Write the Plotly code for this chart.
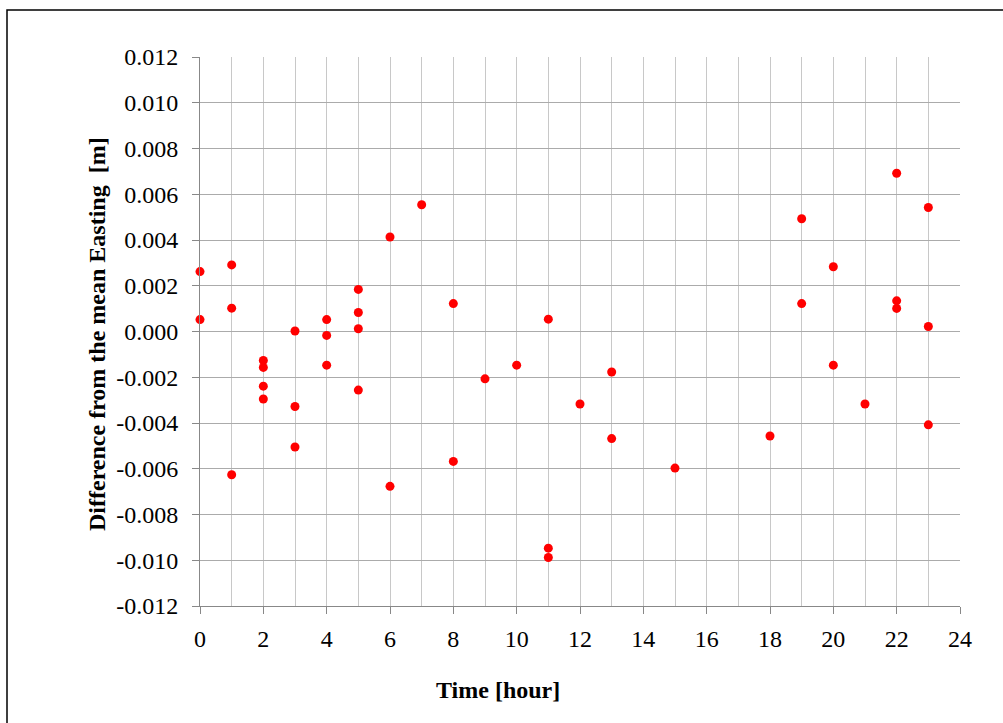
import plotly.graph_objects as go

hours = [0, 0,
         1, 1, 1,
         2, 2, 2, 2,
         3, 3, 3,
         4, 4, 4,
         5, 5, 5, 5,
         6, 6,
         7,
         8, 8,
         9,
         10,
         11, 11, 11,
         12,
         13, 13,
         15,
         18,
         19, 19,
         20, 20,
         21,
         22, 22, 22,
         23, 23, 23]
diff_easting = [0.00262, 0.00052,
                0.00291, 0.00102, -0.00626,
                -0.00127, -0.00157, -0.00239, -0.00295,
                0.00002, -0.00328, -0.00505,
                0.00052, -0.00017, -0.00147,
                0.00184, 0.00083, 0.00012, -0.00256,
                0.00413, -0.00677,
                0.00554,
                0.00122, -0.00568,
                -0.00207,
                -0.00147,
                0.00054, -0.00947, -0.00988,
                -0.00317,
                -0.00177, -0.00468,
                -0.00597,
                -0.00457,
                0.00493, 0.00122,
                0.00283, -0.00147,
                -0.00317,
                0.00692, 0.00134, 0.00101,
                0.00542, 0.00022, -0.00408]

x_tickvals = list(range(0, 25, 2))
y_tickvals = [-0.012, -0.010, -0.008, -0.006, -0.004, -0.002, 0.0,
              0.002, 0.004, 0.006, 0.008, 0.010, 0.012]
y_ticktext = [f"{v:.3f}" for v in y_tickvals]

x_title = "Time [hour]"
y_title = "Difference from the mean Easting&nbsp; [m]"

W, H = 1003, 723
L, R, T, B = 200, 43, 57, 117
pw, ph = W - L - R, H - T - B

font_family = "Liberation Serif"
tick_font = dict(family=font_family, size=24, color="black")
title_font = dict(family=font_family, size=24, color="black")

fig = go.Figure()
fig.add_trace(go.Scatter(
    x=hours, y=diff_easting, mode="markers",
    marker=dict(color="#ff0000", size=9, line=dict(width=0)),
    showlegend=False, cliponaxis=False,
))

fig.update_layout(
    width=W, height=H,
    margin=dict(l=L, r=R, t=T, b=B, pad=0),
    paper_bgcolor="white", plot_bgcolor="white",
    font=dict(family=font_family, size=24, color="black"),
    showlegend=False,
)
fig.update_xaxes(
    range=[0, 24], tickvals=x_tickvals,
    ticks="outside", ticklen=7, tickcolor="#888888", tickwidth=1,
    showline=True, linecolor="#888888", linewidth=1,
    showgrid=True, gridcolor="#c8c8c8", gridwidth=1,
    minor=dict(dtick=1, showgrid=True, gridcolor="#c8c8c8", gridwidth=1, ticks=""),
    zeroline=False, tickfont=tick_font, ticklabelstandoff=4,
)
fig.update_yaxes(
    range=[-0.012, 0.012], tickvals=y_tickvals, ticktext=y_ticktext,
    ticks="outside", ticklen=7, tickcolor="#888888", tickwidth=1,
    showline=True, linecolor="#888888", linewidth=1,
    showgrid=True, gridcolor="#ababab", gridwidth=1,
    zeroline=False, tickfont=tick_font,
    ticklabelstandoff=9,
)

# axis titles
fig.add_annotation(
    text=f"<b>{x_title}</b>", xref="paper", yref="paper",
    x=(498 - L) / pw, y=(H - B - 690) / ph, showarrow=False,
    xanchor="center", yanchor="middle", font=title_font,
)
fig.add_annotation(
    text=f"<b>{y_title}</b>", xref="paper", yref="paper",
    x=(97 - L) / pw, y=(H - B - 334) / ph, showarrow=False, textangle=-90,
    xanchor="center", yanchor="middle", font=title_font,
)

# outer chart border (extends past the right and bottom edges)
fig.add_shape(
    type="rect", xref="paper", yref="paper",
    x0=(7 - L) / pw, x1=(1012 - L) / pw,
    y0=(H - B - 735) / ph, y1=(H - B - 10) / ph,
    line=dict(color="black", width=1.5), fillcolor="rgba(0,0,0,0)", layer="below",
)

fig.write_html("out.html")
